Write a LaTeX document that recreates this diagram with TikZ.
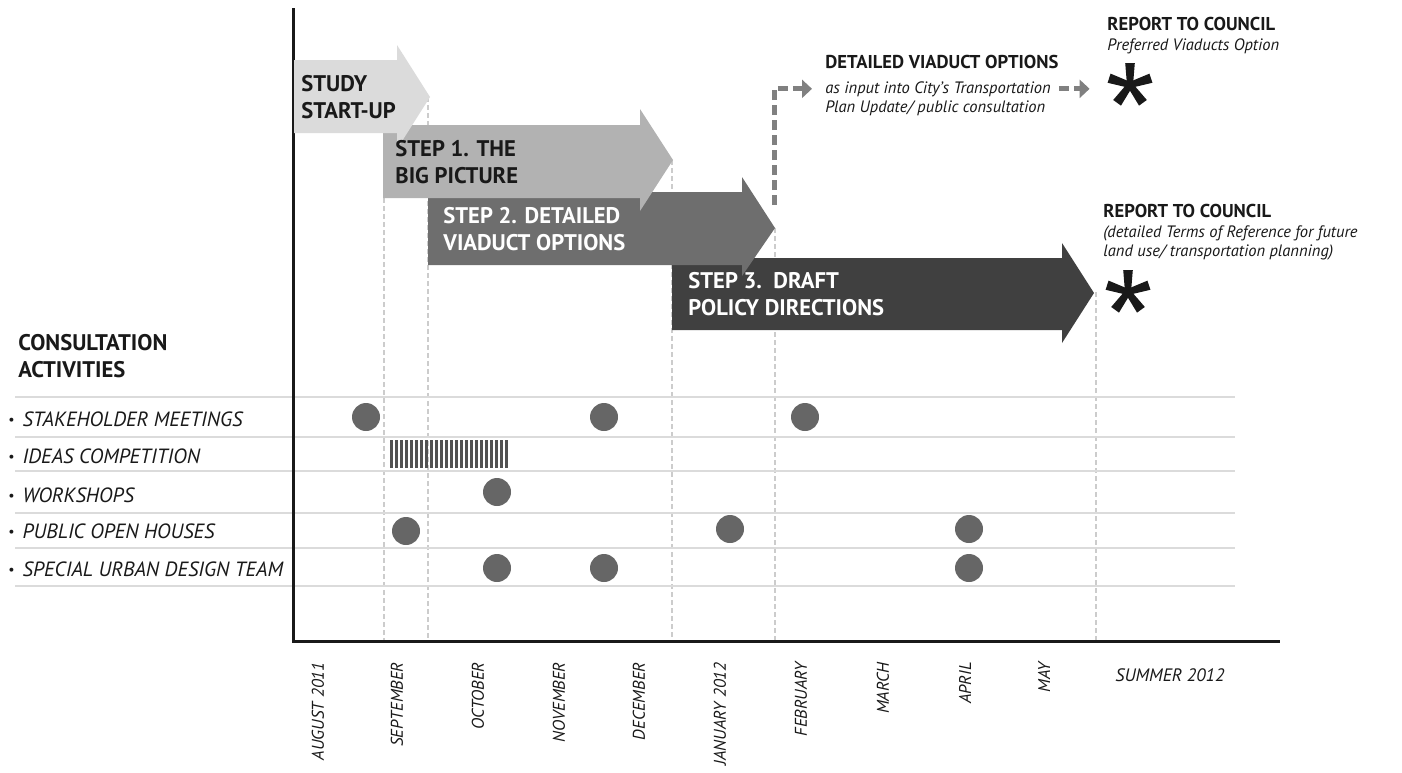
\documentclass[tikz,border=0pt]{standalone}
\usepackage{fontspec}
\setmainfont{PT Sans}
\usetikzlibrary{arrows.meta, positioning}

\definecolor{startgray}{gray}{0.86}
\definecolor{onegray}{gray}{0.70}
\definecolor{twogray}{gray}{0.43}
\definecolor{threegray}{gray}{0.25}
\definecolor{dotgray}{gray}{0.40}
\definecolor{guidegray}{gray}{0.80}
\definecolor{rowgray}{gray}{0.86}
\definecolor{arrowgray}{gray}{0.50}
\definecolor{ink}{gray}{0.10}

\newcommand{\actbullet}{\raisebox{0.9pt}{\upshape\fontsize{7}{7}\selectfont\textbullet}\hspace{4pt}}

\begin{document}
\begin{tikzpicture}[x=0.5pt, y=-0.5pt,
    steplabel/.style={font=\bfseries\fontsize{11.3}{13.5}\selectfont, align=left, anchor=west, inner sep=0pt, text=ink},
    headlabel/.style={font=\bfseries\fontsize{9.3}{10}\selectfont, anchor=base west, inner sep=0pt, text=ink},
    notelabel/.style={font=\itshape\fontsize{8.25}{10}\selectfont, anchor=base west, inner sep=0pt, text=ink},
    activity/.style={font=\itshape\fontsize{10.3}{12}\selectfont, anchor=base west, inner sep=0pt, text=ink},
    month/.style={font=\itshape\fontsize{8.5}{10}\selectfont, rotate=90, anchor=east, inner sep=0pt, text=ink},
    meeting/.style={circle, fill=dotgray, minimum size=14pt, inner sep=0pt},
    guide/.style={guidegray, line width=0.8pt, dash pattern=on 2.5pt off 1.5pt},
    rowline/.style={rowgray, line width=0.9pt},
    viaduct/.style={arrowgray, line width=2.5pt, dash pattern=on 5pt off 2.5pt, -{Triangle[length=5pt, width=9pt]}},
    starmark/.style={circle, minimum size=22pt, inner sep=0pt},
]
\useasboundingbox (0,0) rectangle (1402,772);

% month guides
\draw[guide] (384,198) -- (384,640);
\draw[guide] (428,97) -- (428,640);
\draw[guide] (672,160) -- (672,640);
\draw[guide] (775,228) -- (775,640);
\draw[guide] (1096,292) -- (1096,640);

% activity rows
\foreach \y in {397,437,471,513,548,586}
    \draw[rowline] (15,\y) -- (1235,\y);

% axes
\draw[ink, line width=1.5pt] (293,8) -- (293,641) -- (1280,641);

% study phases, later ones underneath
\fill[threegray] (672,258) -- (1062,258) -- (1062,243) -- (1094,293) -- (1062,343) -- (1062,330) -- (672,330) -- cycle;
\fill[twogray] (428,192) -- (742,192) -- (742,177) -- (775,228) -- (742,276) -- (742,265) -- (428,265) -- cycle;
\fill[onegray] (383,125) -- (640,125) -- (640,109) -- (673,160) -- (640,211) -- (640,198) -- (383,198) -- cycle;
\fill[startgray] (294,60) -- (397,60) -- (397,45) -- (430,97) -- (397,149) -- (397,133) -- (294,133) -- cycle;

\node[steplabel] (startup) at (301,97.5) {STUDY\\START-UP};
\node[steplabel] (stepone) at (395,162) {STEP 1. THE\\BIG PICTURE};
\node[steplabel, text=white] (steptwo) at (443,229) {STEP 2. DETAILED\\VIADUCT OPTIONS};
\node[steplabel, text=white] (stepthree) at (688,294) {STEP 3.\ \ DRAFT\\POLICY DIRECTIONS};

% reports to council
\node[starmark] (starA) at (1130,85) {};
\node[starmark] (starB) at (1128,292) {};
\foreach \star in {starA,starB}
    \foreach \a in {90,18,162,-54,-126}
        \fill[ink, shift={(\star.center)}, rotate=\a] (0,-3) -- (22,-4.8) -- (22,4.8) -- (0,3) -- cycle;

\node[headlabel] (reportA) at (1107,30) {REPORT TO COUNCIL};
\node[notelabel] (preferred) at (1107,50) {Preferred Viaducts Option};
\node[headlabel] (reportB) at (1103,217) {REPORT TO COUNCIL};
\node[notelabel] (termsA) at (1103,237) {(detailed Terms of Reference for future};
\node[notelabel] (termsB) at (1103,256) {land use/ transportation planning)};

\node[headlabel] (viaducthead) at (825,68) {DETAILED VIADUCT OPTIONS};
\node[notelabel] (viaductnote) at (825,93) {as input into City's Transportation};
\node[notelabel] (viaductplan) at (825,112) {Plan Update/ public consultation};

\coordinate (optionsout) at (774,205);
\draw[viaduct, shorten >=6.5pt] (optionsout) |- (viaductnote.west);
\draw[viaduct, shorten <=4pt, shorten >=9pt] (viaductnote.east) -- (viaductnote.east -| starA.west);

% consultation activities
\node[steplabel] (consult) at (18,356) {CONSULTATION\\ACTIVITIES};
\node[activity] (stakeholders) at (8,426) {\actbullet STAKEHOLDER MEETINGS};
\node[activity] (ideas) at (8,463) {\actbullet IDEAS COMPETITION};
\node[activity] (workshops) at (8,502) {\actbullet WORKSHOPS};
\node[activity] (openhouses) at (8,538) {\actbullet PUBLIC OPEN HOUSES};
\node[activity] (designteam) at (8,576) {\actbullet SPECIAL URBAN DESIGN TEAM};

\node[meeting] (meetA) at (366,417) {};
\node[meeting] (meetB) at (604,417) {};
\node[meeting] (meetC) at (805,417) {};
\node[meeting] (shopA) at (497,492) {};
\node[meeting] (houseA) at (406,531) {};
\node[meeting] (houseB) at (730,529) {};
\node[meeting] (houseC) at (969,529) {};
\node[meeting] (teamA) at (497,568) {};
\node[meeting] (teamB) at (604,568) {};
\node[meeting] (teamC) at (969,568) {};

% ideas competition period
\foreach \i in {0,...,23}
    \fill[dotgray!80!black] ({390+\i*5},440) rectangle ++(2.6,28);

% months
\foreach \x/\m [count=\i] in {318/AUGUST 2011, 397/SEPTEMBER, 478/OCTOBER, 559/NOVEMBER, 639/DECEMBER, 720/JANUARY 2012, 801/FEBRUARY, 883/MARCH, 965/APRIL, 1044/MAY}
    \node[month] (month\i) at (\x,662) {\m};
\node[activity, font=\itshape\fontsize{9}{11}\selectfont] (summer) at (1115,681) {SUMMER 2012};
\end{tikzpicture}
\end{document}
